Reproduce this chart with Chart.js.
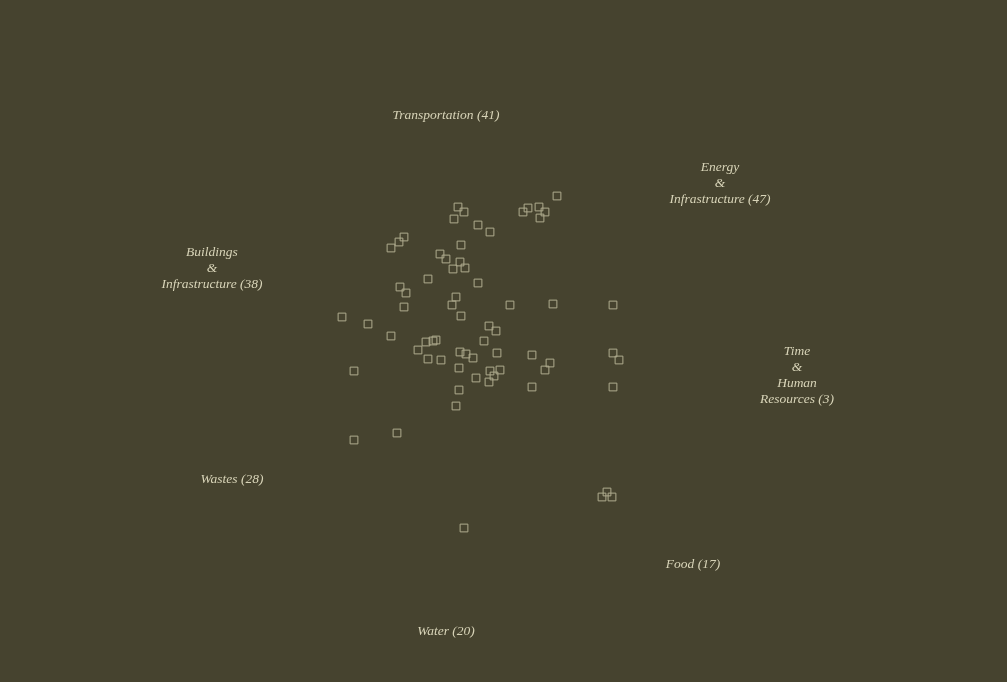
<!DOCTYPE html>
<html>
<head>
<meta charset="utf-8">
<script src="https://cdn.jsdelivr.net/npm/chart.js@4/dist/chart.umd.min.js"></script>
<style>
  html, body { margin: 0; padding: 0; background: #46432f; }
  #wrap { width: 1007px; height: 682px; background: #46432f; }
</style>
</head>
<body>
<div id="wrap"><canvas id="c" width="1007" height="682"></canvas></div>
<script>
// Point values (arbitrary units, origin near the cluster centre)
const pointX = [9.7, 6.3, 6.8, 7.9, 8.5, 8.0, -0.2, 0.4, -0.6, 1.8, 3.0, -5.6, -6.1, -6.9, 0.1, -2.0, -1.4, 0.0, -0.7, 0.5,
  -3.2, 1.8, -6.0, -5.4, -0.4, -0.8, -5.6, 5.0, 9.3, 15.3, -11.8, 0.1, -9.2, 2.9, 3.6, -6.9, 2.4, -3.4, -2.7, -2.4,
  -4.2, 0.0, 0.6, 1.3, 3.7, 7.2, 15.3, 15.9, -3.2, -1.9, 9.0, 8.5, -10.6, -0.1, 3.0, 4.0, 3.4, 2.9, 1.6, 7.2,
  15.3, -0.1, -0.4, -6.3, -10.6, 14.2, 15.2, 14.7, 0.4];
const pointY = [14.4, 12.8, 13.2, 13.3, 12.8, 12.2, 13.3, 12.8, 12.1, 11.5, 10.8, 10.3, 9.8, 9.2, 9.5, 8.6, 8.1, 7.8, 7.1, 7.2,
  6.1, 5.7, 5.3, 4.7, 4.3, 3.5, 3.3, 3.5, 3.6, 3.5, 2.3, 2.4, 1.6, 1.4, 0.9, 0.4, -0.1, -0.2, -0.1, 0.0,
  -1.0, -1.2, -1.4, -1.8, -1.3, -1.5, -1.3, -2.0, -1.9, -2.0, -2.3, -3.0, -3.1, -2.8, -3.1, -3.0, -3.6, -4.2, -3.8, -4.7,
  -4.7, -5.0, -6.6, -9.3, -10.0, -15.7, -15.7, -15.2, -18.8];

// Category labels and their anchors (same units)
const categories = ["Transportation (41)", "Energy\n&\nInfrastructure (47)", "Buildings\n&\nInfrastructure (38)",
  "Time\n&\nHuman\nResources (3)", "Wastes (28)", "Food (17)", "Water (20)"];
const categoryX = [-1.4, 26.0, -24.8, 33.7, -22.8, 23.3, -1.4];
const categoryY = [22.5, 15.7, 7.2, -3.5, -13.9, -22.4, -29.1];

const points = pointX.map((x, i) => ({ x: x, y: pointY[i] }));

const labelPlugin = {
  id: 'categoryLabels',
  afterDatasetsDraw(chart) {
    const ctx = chart.ctx;
    const xs = chart.scales.x, ys = chart.scales.y;
    ctx.save();
    ctx.fillStyle = 'rgb(216,212,184)';
    ctx.font = 'italic 13.5px "Liberation Serif", "DejaVu Serif", serif';
    ctx.textAlign = 'center';
    ctx.textBaseline = 'middle';
    const lh = 16;
    categories.forEach((txt, i) => {
      const lines = txt.split('\n');
      const cx = xs.getPixelForValue(categoryX[i]);
      const cy = ys.getPixelForValue(categoryY[i]);
      const top = cy - (lines.length - 1) * lh / 2;
      lines.forEach((l, j) => ctx.fillText(l, cx, top + j * lh));
    });
    ctx.restore();
  }
};

new Chart(document.getElementById('c'), {
  type: 'scatter',
  data: {
    datasets: [{
      data: points,
      pointStyle: 'rect',
      pointRadius: 5.5,
      pointHoverRadius: 5.5,
      pointBorderWidth: 1,
      pointBackgroundColor: 'rgba(0,0,0,0)',
      pointBorderColor: 'rgb(176,172,143)'
    }]
  },
  options: {
    responsive: false,
    animation: false,
    layout: { padding: 0, autoPadding: false },
    plugins: { legend: { display: false }, tooltip: { enabled: false } },
    scales: {
      x: { type: 'linear', display: false, min: -46, max: 54.7 },
      y: { type: 'linear', display: false, min: -34.2, max: 34.0 }
    }
  },
  plugins: [labelPlugin]
});
</script>
</body>
</html>
